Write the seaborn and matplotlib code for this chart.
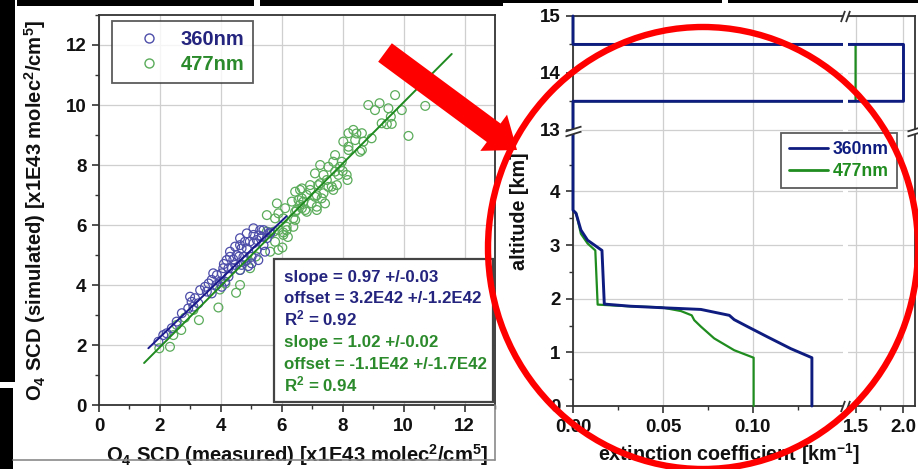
import numpy as np
import pandas as pd
import matplotlib
matplotlib.use("Agg")
import matplotlib.pyplot as plt
import seaborn as sns
from matplotlib.patches import Rectangle, Ellipse, FancyArrow
from matplotlib.path import Path
from matplotlib.transforms import Affine2D
from matplotlib.lines import Line2D
from matplotlib.ticker import FixedLocator, MultipleLocator

# ---------------- data: left panel (O4 SCD, x1E43 molec^2/cm^5) ----------------
BANDS = ["360nm", "477nm"]

MEAS_360 = [1.95, 2.11, 2.22, 2.39, 2.55, 2.72, 2.93, 3.04, 3.15, 3.26, 3.32, 3.48, 3.54, 3.70,
            3.70, 3.87, 3.97, 4.03, 4.03, 4.08, 4.14, 4.19, 4.25, 4.25, 4.30, 4.30, 4.36, 4.47,
            4.47, 4.41, 4.52, 4.60, 4.63, 4.63, 4.68, 4.68, 4.74, 4.80, 4.79, 4.85, 4.85, 5.01,
            5.07, 5.07, 5.07, 5.18, 5.23, 5.29, 5.34, 5.40, 5.45, 5.51, 5.01, 5.60, 3.75, 4.90,
            4.63, 5.18, 5.62, 5.40, 3.10, 2.99, 3.85, 4.95, 5.25, 4.10, 3.60]
SIM_360 = [2.11, 2.33, 2.39, 2.56, 2.78, 3.06, 3.22, 3.44, 3.56, 3.39, 3.83, 3.94, 3.78, 4.17,
           3.72, 4.33, 4.11, 4.39, 3.94, 4.56, 4.11, 4.83, 4.28, 4.56, 4.94, 5.11, 4.56, 4.67,
           5.28, 4.85, 5.00, 4.95, 5.56, 4.50, 5.22, 4.67, 4.94, 4.80, 5.44, 5.72, 5.22, 4.94,
           5.89, 5.67, 5.39, 5.17, 4.83, 5.83, 5.61, 5.33, 5.11, 5.56, 4.72, 5.75, 4.39, 4.63,
           5.33, 5.50, 5.72, 5.83, 3.28, 3.61, 4.00, 5.45, 5.65, 4.70, 4.05]

MEAS_477 = [1.98, 2.33, 2.44, 2.55, 2.70, 2.82, 3.10, 3.28, 3.92, 3.97, 4.15, 4.50, 4.63, 4.63,
            4.85, 4.96, 5.15, 5.62, 5.89, 5.78, 6.02, 6.05, 6.20, 6.16, 6.38, 6.44, 6.05, 5.78,
            5.51, 5.89, 6.11, 5.84, 6.33, 6.49, 6.77, 7.15, 6.60, 6.66, 6.44, 6.82, 7.09, 7.37,
            7.26, 6.93, 6.55, 6.71, 6.66, 6.98, 7.15, 7.42, 7.31, 6.66, 6.93, 7.20, 7.64, 7.81,
            7.48, 7.37, 7.09, 7.75, 7.86, 8.13, 8.16, 8.00, 7.26, 7.53, 7.91, 7.69, 7.97, 7.75,
            8.19, 8.57, 8.02, 8.41, 8.68, 8.95, 8.35, 8.45, 8.63, 8.84, 9.21, 9.06, 9.50, 9.94,
            10.71, 9.58, 9.28, 9.61, 10.16, 8.63, 9.72, 6.44, 6.38, 6.16, 5.90, 6.05, 5.74, 5.51,
            6.60, 7.53, 7.69, 6.82, 7.15, 8.19, 8.19, 9.45]
SIM_477 = [1.89, 1.94, 2.33, 2.67, 2.50, 2.91, 3.17, 2.83, 3.25, 3.85, 4.05, 3.74, 4.00, 4.50,
           4.83, 4.56, 4.95, 5.11, 5.17, 5.44, 5.25, 5.67, 5.60, 5.94, 5.94, 6.17, 6.22, 6.22,
           6.33, 6.39, 6.56, 6.72, 6.78, 6.50, 6.50, 6.50, 6.67, 6.89, 7.11, 7.00, 6.94, 7.06,
           7.39, 7.33, 6.83, 6.78, 6.56, 6.72, 6.61, 6.72, 6.89, 7.22, 7.17, 7.33, 7.28, 7.33,
           7.50, 7.67, 7.72, 7.78, 7.67, 7.67, 7.50, 7.80, 8.00, 7.94, 7.94, 8.11, 8.11, 8.33,
           8.50, 8.44, 8.78, 8.83, 8.78, 8.89, 9.17, 9.05, 9.06, 10.00, 10.06, 9.83, 9.89, 9.83,
           9.97, 9.61, 9.39, 9.37, 8.97, 8.50, 10.33, 6.44, 6.22, 5.83, 5.83, 5.75, 5.78, 5.78,
           7.17, 7.27, 7.17, 6.44, 6.99, 8.61, 9.06, 9.36]

FIT_SLOPE = [0.97, 1.02]
FIT_OFFSET = [0.32, -0.11]
FIT_XRANGE = [[1.62, 6.16], [1.48, 11.58]]
FIT_TEXT = [["slope = 0.97 +/-0.03", "offset = 3.2E42 +/-1.2E42", "R$^2$ = 0.92"],
            ["slope = 1.02 +/-0.02", "offset = -1.1E42 +/-1.7E42", "R$^2$ = 0.94"]]
SCD_TICKS = [0, 2, 4, 6, 8, 10, 12]

# ---------------- data: right panel (extinction profiles) ----------------
EXT_360 = [0.1328, 0.1328, 0.121, 0.108, 0.097, 0.0896, 0.0869, 0.0711, 0.0507, 0.032, 0.0174,
           0.0161, 0.0119, 0.0081, 0.0044, 0.0017, 0.0, 0.0, 2.0, 2.0, 0.0, 0.0]
ALT_360 = [0.0, 0.9, 1.07, 1.29, 1.48, 1.61, 1.69, 1.80, 1.83, 1.86, 1.90,
           2.90, 3.0, 3.09, 3.28, 3.59, 3.65, 13.5, 13.5, 14.5, 14.5, 15.0]
EXT_477 = [0.1004, 0.1004, 0.0896, 0.0785, 0.0711, 0.0674, 0.066, 0.060, 0.0489, 0.0304, 0.0137,
           0.0124, 0.0081, 0.0044, 0.0017, 0.0, 0.0, 1.5, 1.5, 0.0, 0.0]
ALT_477 = [0.0, 0.9, 1.04, 1.26, 1.48, 1.60, 1.69, 1.77, 1.84, 1.86, 1.89,
           2.90, 3.03, 3.21, 3.6, 3.65, 13.5, 13.5, 14.5, 14.5, 15.0]
ALT_TICKS = [0, 1, 2, 3, 4, 13, 14, 15]
ALT_MINOR = [0.5, 1.5, 2.5, 3.5, 4.5, 13.5, 14.5]
EXT_TICKS = [0.0, 0.05, 0.10, 1.5, 2.0]
EXT_TICKLABELS = ["0.00", "0.05", "0.10", "1.5", "2.0"]
EXT_MINOR = [0.025, 0.075, 0.125, 1.75]

# ---------------- style ----------------
sns.set_theme(style="ticks")
plt.rcParams["font.family"] = ["Liberation Sans", "DejaVu Sans"]
plt.rcParams.update({
    "mathtext.fontset": "custom",
    "mathtext.rm": "Liberation Sans:bold",
    "mathtext.bf": "Liberation Sans:bold",
    "mathtext.it": "Liberation Sans:bold",
    "mathtext.default": "bf",
    "font.weight": "bold",
    "axes.labelweight": "bold",
})

C_B_LINE, C_B_PT, C_B_TXT = "#1a1a8c", "#4d4daa", "#24247f"
C_G_LINE, C_G_PT, C_G_TXT = "#1f8a1f", "#5aab5a", "#2b8a2b"
C_NAVY, C_GREEN = "#0e1c80", "#1f8c1f"
SPINE = "#333333"
GRID = "#cfcfcf"

W, H = 918, 469
fig = plt.figure(figsize=(W / 100, H / 100), dpi=100)
PX = Affine2D().scale(1 / 100, -1 / 100).translate(0, H / 100) + fig.dpi_scale_trans


def rect(l, t, r, b):
    return [l / W, 1 - b / H, (r - l) / W, (b - t) / H]


ax1 = fig.add_axes(rect(99, 15, 495, 405))
ax2 = fig.add_axes(rect(573, 16, 915, 406))

for ax in (ax1, ax2):
    for s in ax.spines.values():
        s.set_visible(True)
        s.set_color(SPINE)
        s.set_linewidth(1.3)
    ax.tick_params(which="major", direction="out", length=5, width=1.2, color=SPINE,
                   labelsize=13.5, pad=4, labelcolor="#111111")
    ax.tick_params(which="minor", direction="out", length=3, width=1.0, color=SPINE)
    ax.set_axisbelow(True)
    ax.grid(True, which="major", color=GRID, lw=0.9)

# ---------------- left panel ----------------
df360 = pd.DataFrame({"measured": MEAS_360, "simulated": SIM_360})
df477 = pd.DataFrame({"measured": MEAS_477, "simulated": SIM_477})
sns.scatterplot(data=df477, x="measured", y="simulated", ax=ax1, marker="o", s=40,
                facecolor="none", edgecolor=C_G_PT, linewidth=0.9, legend=False, zorder=3)
sns.scatterplot(data=df360, x="measured", y="simulated", ax=ax1, marker="o", s=40,
                facecolor="none", edgecolor=C_B_PT, linewidth=0.9, legend=False, zorder=3)
for i, col in enumerate([C_B_LINE, C_G_LINE]):
    xs = np.array(FIT_XRANGE[i])
    sns.lineplot(x=xs, y=FIT_SLOPE[i] * xs + FIT_OFFSET[i], ax=ax1, color=col, lw=1.4,
                 zorder=4)

ax1.set_xlim(0, 13)
ax1.set_ylim(0, 13)
ax1.xaxis.set_major_locator(FixedLocator(SCD_TICKS))
ax1.yaxis.set_major_locator(FixedLocator(SCD_TICKS))
ax1.xaxis.set_minor_locator(MultipleLocator(1))
ax1.yaxis.set_minor_locator(MultipleLocator(1))
ax1.set_xticklabels([str(t) for t in SCD_TICKS])
ax1.set_yticklabels([str(t) for t in SCD_TICKS])
ax1.set_xlabel(r"O$_4$ SCD (measured) [x1E43 molec$^2$/cm$^5$]", fontsize=14.6, color="#111111")
ax1.set_ylabel(r"O$_4$ SCD (simulated) [x1E43 molec$^2$/cm$^5$]", fontsize=14.6, color="#111111")
ax1.xaxis.set_label_coords(0.5, -0.095)
ax1.yaxis.set_label_coords(-0.128, 0.5)

h1 = [Line2D([], [], ls="none", marker="o", ms=6.5, mfc="none", mec=c, mew=1.0)
      for c in (C_B_PT, C_G_PT)]
leg1 = ax1.legend(h1, BANDS, loc="upper left",
                  bbox_to_anchor=((112 - 99) / 396, (405 - 21) / 390), borderaxespad=0,
                  frameon=True, fancybox=False, edgecolor=SPINE, fontsize=14.5,
                  handlelength=2.8, handletextpad=0.15, borderpad=0.45, labelspacing=0.28)
leg1.get_frame().set_linewidth(1.3)
for t, c in zip(leg1.get_texts(), (C_B_TXT, C_G_TXT)):
    t.set_color(c)

ax1.add_patch(Rectangle(((274 - 99) / 396, (405 - 402) / 390), 219 / 396, 143 / 390,
                        transform=ax1.transAxes, fc="white", ec="#444444", lw=1.6, zorder=5))
baselines = [281.5, 303, 325, 347, 369, 391]
k = 0
for i, col in enumerate([C_B_TXT, C_G_TXT]):
    for line in FIT_TEXT[i]:
        ax1.text((284 - 99) / 396, (405 - baselines[k]) / 390, line, transform=ax1.transAxes,
                 fontsize=12.2, color=col, va="baseline", ha="left", zorder=6)
        k += 1

# ---------------- right panel ----------------
prof477 = pd.DataFrame({"ext": EXT_477, "alt": ALT_477})
prof360 = pd.DataFrame({"ext": EXT_360, "alt": ALT_360})
sns.lineplot(data=prof477, x="ext", y="alt", sort=False, estimator=None, ax=ax2,
             color=C_GREEN, lw=1.6, clip_on=False, zorder=4)
sns.lineplot(data=prof360, x="ext", y="alt", sort=False, estimator=None, ax=ax2,
             color=C_NAVY, lw=2.1, clip_on=False, zorder=5)

# broken axes through function scales
XP = [-1.0, 0.15, 1.42, 3.0]
XF = [-1.0, 0.15, 0.1528, 0.1528 + (3.0 - 1.42) * 0.0533]
YP = [-1.0, 5.1, 13.0, 20.0]
YF = [-1.0, 5.1, 5.15, 5.15 + 7.0 * 1.06]
fx = lambda v: np.interp(v, XP, XF)
fxi = lambda v: np.interp(v, XF, XP)
fy = lambda v: np.interp(v, YP, YF)
fyi = lambda v: np.interp(v, YF, YP)
ax2.set_xscale("function", functions=(fx, fxi))
ax2.set_yscale("function", functions=(fy, fyi))
ax2.set_xlim(0, 2.12)
ax2.set_ylim(0, 15)
ax2.xaxis.set_major_locator(FixedLocator(EXT_TICKS))
ax2.xaxis.set_minor_locator(FixedLocator(EXT_MINOR))
ax2.set_xticklabels(EXT_TICKLABELS)
ax2.yaxis.set_major_locator(FixedLocator(ALT_TICKS))
ax2.yaxis.set_minor_locator(FixedLocator(ALT_MINOR))
ax2.set_yticklabels([str(t) for t in ALT_TICKS])
ax2.set_xlabel(r"extinction coefficient [km$^{-1}$]", fontsize=14.2, color="#111111")
ax2.set_ylabel("altitude [km]", fontsize=14.2, color="#111111")
ax2.xaxis.set_label_coords((729 - 573) / 342, -0.09)
ax2.yaxis.set_label_coords(-0.13, 0.5)

# gap of the x break
ax2.axvspan(0.15, 1.42, color="white", zorder=6, lw=0)
xb = float(fxi(0.5 * (fx(0.15) + fx(1.42))))
yb = float(fyi(0.5 * (fy(5.1) + fy(13.0))))

v_lines = Path([(-4.5, -5.5), (-0.5, 5.5), (0.5, -5.5), (4.5, 5.5)],
               [Path.MOVETO, Path.LINETO, Path.MOVETO, Path.LINETO])
v_fill = Path([(-4.5, -5.5), (0.5, -5.5), (4.5, 5.5), (-0.5, 5.5), (-4.5, -5.5)],
              [Path.MOVETO, Path.LINETO, Path.LINETO, Path.LINETO, Path.CLOSEPOLY])
h_lines = Path([(-8, -5), (8, 0), (-8, 0), (8, 5)],
               [Path.MOVETO, Path.LINETO, Path.MOVETO, Path.LINETO])
h_fill = Path([(-8, -5), (8, 0), (8, 5), (-8, 0), (-8, -5)],
              [Path.MOVETO, Path.LINETO, Path.LINETO, Path.LINETO, Path.CLOSEPOLY])
for (px_, py_), lp, fp in [((xb, 0.0), v_lines, v_fill), ((xb, 15.0), v_lines, v_fill),
                           ((0.0, yb), h_lines, h_fill), ((2.12, yb), h_lines, h_fill)]:
    ms = 8.0 if lp is v_lines else 11.5
    ax2.plot([px_], [py_], ls="none", marker=fp, ms=ms, mfc="white", mec="white", mew=0,
             clip_on=False, zorder=7)
    ax2.plot([px_], [py_], ls="none", marker=lp, ms=ms, mfc="none", mec=SPINE, mew=1.3,
             clip_on=False, zorder=8)

h2 = [Line2D([], [], color=c, lw=2.0) for c in (C_NAVY, C_GREEN)]
leg2 = ax2.legend(h2, BANDS, loc="upper left",
                  bbox_to_anchor=((781 - 573) / 342, (406 - 133) / 390), borderaxespad=0,
                  frameon=True, fancybox=False, edgecolor=SPINE, fontsize=12.7,
                  handlelength=2.2, handletextpad=0.3, borderpad=0.45, labelspacing=0.3)
leg2.get_frame().set_linewidth(1.3)
leg2.set_zorder(9)
for t, c in zip(leg2.get_texts(), (C_NAVY, C_GREEN)):
    t.set_color(c)

# ---------------- page decorations (pixel coordinates) ----------------
for (x0, y0, w, h) in [(17, 0, 237, 6), (260, 0, 243, 6), (503, 0, 219, 3.5), (728, 0, 190, 3.5),
                       (0, 0, 15, 382), (0, 388, 13, 81)]:
    fig.add_artist(Rectangle((x0, y0), w, h, transform=PX, fc="black", ec="none", zorder=10))
fig.add_artist(Line2D([13, 495], [460, 460], transform=PX, color="#8a8a8a", lw=1.2, zorder=10))
fig.add_artist(Line2D([495, 495], [405, 460], transform=PX, color="#8a8a8a", lw=1.2, zorder=10))

fig.add_artist(Ellipse((703, 248), 430, 442, transform=PX, fill=False, ec="#ff0000", lw=4.6,
                       zorder=11))
fig.add_artist(FancyArrow(385, 52.5, 132, 97.5, width=23, head_width=45, head_length=29,
                          length_includes_head=True, transform=PX, fc="#ff0000", ec="none",
                          zorder=12))

fig.savefig("out.png", dpi=100)
